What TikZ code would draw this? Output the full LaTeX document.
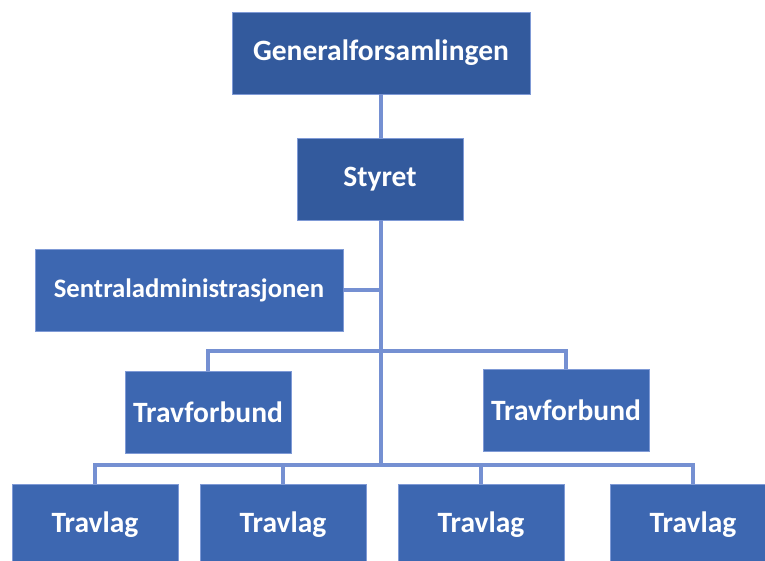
\documentclass[tikz,border=0pt]{standalone}
\usepackage{fontspec}
\setmainfont{Carlito}
\usetikzlibrary{positioning}
\definecolor{OrgDark}{HTML}{335A9D}
\definecolor{OrgBlue}{HTML}{3D67B1}
\definecolor{OrgEdge}{HTML}{7F9AD6}
\definecolor{OrgLine}{HTML}{7590D2}
\begin{document}
\begin{tikzpicture}[x=1pt, y=-1pt,
    every node/.style={font=\fontsize{29.5}{34}\selectfont\bfseries, text=white},
    orgbox/.style={rectangle, draw=OrgEdge, line width=0.6pt, fill=OrgBlue, inner sep=0pt, minimum width=166pt, minimum height=82pt},
    topbox/.style={orgbox, fill=OrgDark},
    link/.style={OrgLine, line width=3.2pt}]
    \useasboundingbox (0,0) rectangle (765,561);

    % Top levels
    \node[topbox, minimum width=298pt] (gen) at (381, 53) {Generalforsamlingen};
    \node[topbox] (sty) at (380, 179) {Styret};
    \node[orgbox, minimum width=308pt, font=\fontsize{26.7}{32}\selectfont\bfseries] (sent) at (189, 290) {Sentraladministrasjonen};

    % Forbund
    \node[orgbox] (tf1) at (208, 412) {Travforbund};
    \node[orgbox] (tf2) at (566, 410) {Travforbund};

    % Lag
    \node[orgbox] (tl1) at (95, 525) {Travlag};
    \node[orgbox] (tl2) at (283, 525) {Travlag};
    \node[orgbox] (tl3) at (481, 525) {Travlag};
    \node[orgbox] (tl4) at (693, 525) {Travlag};

    % Junctions on the spine
    \coordinate (j1) at (381, 290);
    \coordinate (j2) at (381, 351);
    \coordinate (j3) at (381, 465);

    % Lines
    \draw[link] (gen.south) -- (sty.north -| gen.south);
    \draw[link] (sty.south -| gen.south) -- (j3);
    \draw[link] (sent.east) -- (j1);
    \draw[link] (j2) -| (tf1.north);
    \draw[link] (j2) -| (tf2.north);
    \draw[link] (j3) -| (tl1.north);
    \draw[link] (j3) -| (tl2.north);
    \draw[link] (j3) -| (tl3.north);
    \draw[link] (j3) -| (tl4.north);
\end{tikzpicture}
\end{document}
